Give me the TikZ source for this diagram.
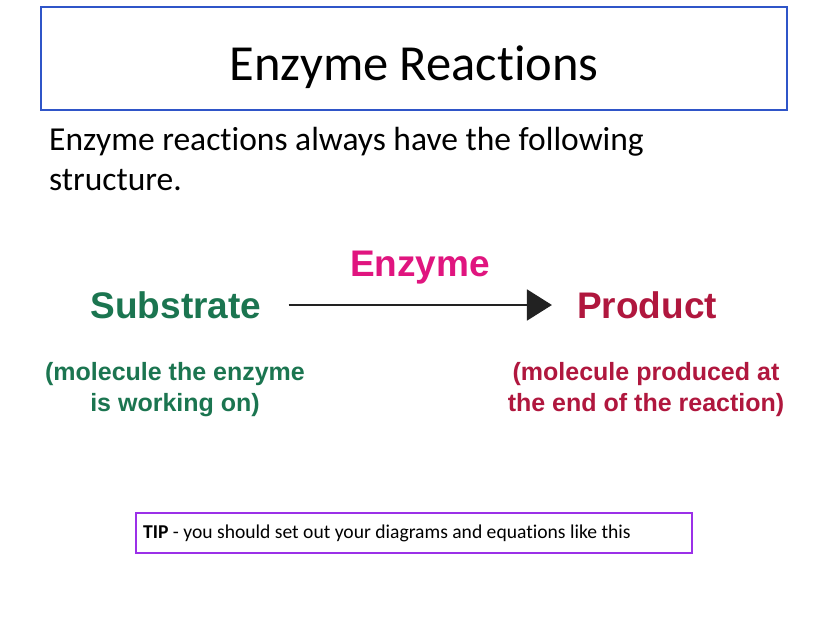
\documentclass[tikz,border=0pt]{standalone}
\usepackage{fontspec}
\setmainfont{Carlito}[Ligatures=NoCommon]
\newfontfamily\arialf{Liberation Sans}
\usetikzlibrary{arrows.meta}
\definecolor{titleblue}{HTML}{2F55C8}
\definecolor{subgreen}{HTML}{1B7550}
\definecolor{prodred}{HTML}{B0173E}
\definecolor{enzpink}{HTML}{E0157F}
\definecolor{tippurple}{HTML}{9B30E8}
\definecolor{arrowgray}{HTML}{222222}
\tikzset{
  bigword/.style={inner sep=0pt, font=\arialf\bfseries\fontsize{37}{40}\selectfont},
  note/.style={inner sep=0pt, align=center, font=\arialf\bfseries\fontsize{25}{31}\selectfont},
  bodytext/.style={anchor=base west, inner sep=0pt, font=\fontsize{33.5}{40}\selectfont},
}
\begin{document}
\begin{tikzpicture}[x=1pt,y=-1pt]
\useasboundingbox[fill=white] (0,0) rectangle (828,621);
\node[draw=titleblue, line width=2.5pt, minimum width=746pt, minimum height=103pt, inner sep=0pt] (titlebox) at (414,58.5) {};
\node[anchor=base, inner sep=0pt, font=\fontsize{50.5}{60}\selectfont] (title) at (414,80) {Enzyme Reactions};
\node[bodytext] (body1) at (49,150) {Enzyme reactions always have the following};
\node[bodytext] (body2) at (49,190) {structure.};
\node[bigword, text=subgreen] (sub) at (176,305) {Substrate};
\node[bigword, text=prodred] (prod) at (647,305) {Product};
\node[bigword, text=enzpink] (enz) at (420,268) {Enzyme};
\node[note, text=subgreen, anchor=base] (subnote) at (175,411) {(molecule the enzyme\\is working on)};
\node[note, text=prodred, anchor=base] (prodnote) at (646,411) {(molecule produced at\\the end of the reaction)};
\draw[line width=2pt, arrowgray, -{Triangle[length=25pt, width=31pt]}, shorten <=27pt, shorten >=25pt] (sub.east) -- (prod.west);
\node[draw=tippurple, line width=2pt, minimum width=556pt, minimum height=40pt, inner sep=0pt] (tipbox) at (414,533) {};
\node[anchor=west, inner sep=0pt, font=\fontsize{19.6}{22}\selectfont] (tip) at (143,533) {\textbf{TIP} - you should set out your diagrams and equations like this};
\end{tikzpicture}
\end{document}
